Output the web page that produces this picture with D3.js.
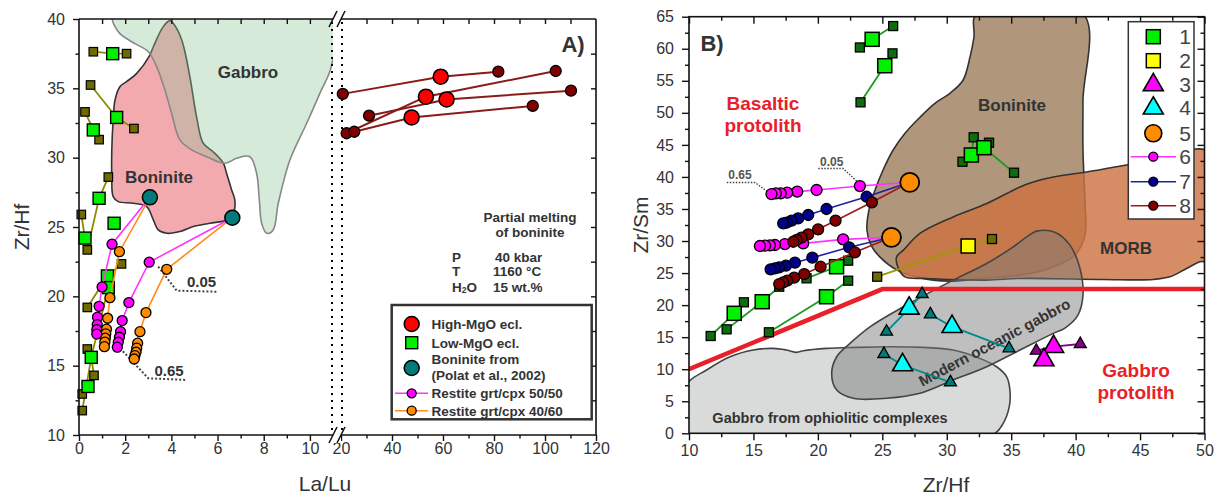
<!DOCTYPE html>
<html><head><meta charset="utf-8">
<script src="https://cdn.jsdelivr.net/npm/d3@7"></script>
<style>body{margin:0;background:#fff;} svg{display:block;}</style>
</head><body><svg id="c" width="1220" height="499"></svg>
<script>
// ---------------- DATA: panel A (La/Lu vs Zr/Hf) ----------------
const xTicksA_left = [0, 2, 4, 6, 8, 10];
const xTicksA_right = [20, 40, 60, 80, 100, 120];
const yTicksA = [10, 15, 20, 25, 30, 35, 40];

const boninitePolyA = [[3.07,37.4],[2.5,36.08],[2.06,35.48],[1.77,35.12],[1.56,34.16],[1.48,32.72],[1.42,30.56],[1.42,28.63],[1.48,27.19],[1.7,26.83],[2.35,26.71],[2.93,26.47],[3.22,25.51],[3.43,24.79],[3.8,24.55],[4.37,24.67],[4.95,25.03],[5.67,25.27],[6.39,25.51],[6.68,25.99],[6.75,26.95],[6.61,27.67],[6.39,28.88],[6.25,29.6],[5.81,30.43],[5.38,31.04],[5.09,32.96],[4.8,35.84],[4.45,38.49],[4.08,39.69],[3.94,39.88],[3.65,39.45],[3.22,38.0]];
const gabbroPolyA = [[1.48,40.3],[1.7,39.08],[2.28,38.36],[3.0,37.64],[3.36,36.56],[3.72,34.88],[4.01,33.2],[4.37,31.28],[4.88,30.56],[5.53,30.07],[6.32,29.6],[6.83,29.96],[7.4,30.07],[7.69,28.88],[7.81,26.95],[7.91,25.27],[8.13,24.55],[8.41,24.79],[8.63,26.71],[9.13,29.81],[9.86,32.48],[10.43,34.64],[10.94,36.68],[10.94,40.3]];

const lowMgO_A_big = [[1.46,37.5],[1.63,32.9],[0.62,32.0],[0.87,27.07],[1.52,25.27],[0.26,24.2],[1.23,21.47],[1.27,20.63],[0.53,15.6],[0.39,13.5]];
const lowMgO_A_small = [[0.62,37.64],[2.06,37.5],[0.5,35.24],[2.38,32.1],[0.26,33.3],[0.87,31.3],[1.27,28.6],[0.1,25.9],[0.36,23.35],[1.84,22.34],[0.36,19.2],[0.36,16.2],[0.65,14.3],[0.14,12.96],[0.14,11.76]];
const lowMgO_A_links = [
  [[0.62,37.64],[1.46,37.5],[2.06,37.5]],
  [[0.5,35.24],[1.63,32.9],[2.38,32.1]],
  [[0.26,33.3],[0.62,32.0],[0.87,31.3]],
  [[1.27,28.6],[0.87,27.07],[0.36,23.35]],
  [[0.1,25.9],[0.26,24.2]],
  [[1.84,22.34],[1.23,21.47],[0.36,19.2]],
  [[1.27,20.63],[0.53,15.6],[0.14,11.76]],
  [[0.36,16.2],[0.53,15.6],[0.65,14.3]],
  [[0.14,12.96],[0.39,13.5]]
];

const highMgO_big = [[59.1,35.84],[53.3,34.4],[61.4,34.2],[47.7,32.9]];
const highMgO_small = [[20.7,34.6],[81.7,36.2],[22.2,31.76],[104.2,36.25],[31,33.03],[110.2,34.83],[25.2,31.87],[95.2,33.73]];
const highMgO_links = [
  [[20.7,34.6],[59.1,35.84],[81.7,36.2]],
  [[22.2,31.76],[53.3,34.4],[104.2,36.25]],
  [[31,33.03],[61.4,34.2],[110.2,34.83]],
  [[25.2,31.87],[47.7,32.9],[95.2,33.73]]
];

const boniniteSamplesA = [[3.07,27.14],[6.64,25.67]];
const restite5050_A = [
  [[3.07,27.14],[1.43,23.76],[1.0,20.68],[0.87,19.28],[0.8,18.5],[0.79,17.96],[0.77,17.6],[0.77,17.28]],
  [[6.64,25.67],[3.04,22.46],[2.16,19.55],[1.87,18.25],[1.8,17.45],[1.75,17.05],[1.7,16.69],[1.66,16.33]]
];
const restite4060_A = [
  [[3.07,27.14],[1.75,23.22],[1.34,19.9],[1.24,18.42],[1.19,17.63],[1.16,17.29],[1.14,16.98],[1.12,16.7],[1.1,16.37]],
  [[6.64,25.67],[3.8,21.95],[2.9,18.83],[2.64,17.45],[2.54,16.62],[2.5,16.26],[2.47,15.97],[2.42,15.72],[2.39,15.48]]
];
const leader005_A = [[3.43,22.14],[4.23,20.41],[6.03,20.33]];
const leader065_A = [[1.78,16.25],[3.0,14.09],[4.66,13.97]];

// ---------------- DATA: panel B (Zr/Hf vs Zr/Sm) ----------------
const xTicksB = [10, 15, 20, 25, 30, 35, 40, 45, 50];
const yTicksB = [0, 5, 10, 15, 20, 25, 30, 35, 40, 45, 50, 55, 60, 65];

const boninitePolyB = [[32.32,65.5],[32.11,61.78],[31.8,58.66],[31.26,55.08],[30.25,53.05],[29.08,51.49],[27.92,49.31],[26.76,46.81],[25.83,44.16],[25.05,41.04],[24.43,37.93],[23.96,34.81],[23.81,31.69],[24.12,29.35],[24.82,27.48],[26.14,25.46],[27.69,24.37],[30.25,23.74],[32.96,24.21],[35.68,24.68],[38.0,25.77],[39.95,27.79],[40.72,30.91],[40.72,36.37],[40.57,44.16],[40.57,51.96],[40.57,65.5]];
const morbPolyB = [[50.3,43.9],[46.02,42.6],[40.85,40.78],[38.26,40.0],[36.71,39.22],[35.68,38.44],[33.1,35.85],[30.5,33.76],[27.92,31.18],[26.63,28.57],[26.11,27.53],[26.24,25.77],[26.76,24.41],[28.44,24.16],[33.1,23.9],[35.68,24.16],[42.14,24.0],[46.02,24.0],[47.31,24.41],[48.61,25.72],[49.64,26.75],[50.3,27.0]];
const ophioliteGabbroPolyB = [[9.8,7.54],[11.37,9.87],[13.18,11.94],[14.99,12.99],[16.54,13.25],[17.58,12.99],[18.36,12.63],[18.87,12.88],[20.68,13.25],[23.01,13.41],[25.59,13.5],[28.17,13.41],[30.5,12.99],[32.57,11.69],[33.87,10.38],[34.65,8.82],[34.9,6.75],[34.85,4.15],[34.38,1.56],[33.48,-0.3],[9.8,-0.3]];
const modernGabbroPolyB = [[36.97,31.54],[38.39,31.38],[39.56,29.36],[40.33,25.77],[40.57,21.56],[40.18,18.45],[39.17,16.42],[38.26,15.59],[35.68,12.99],[33.1,10.38],[30.5,8.31],[27.92,6.24],[25.34,5.46],[22.75,5.46],[21.46,6.75],[21.07,9.35],[21.46,11.94],[22.49,14.03],[24.04,16.62],[26.63,19.74],[30.5,23.9],[33.1,26.5],[35.16,29.09],[36.2,30.65]];
const protolithBoundary = [[10,10],[25,22.5],[50,22.5]];

const g1_big = [[24.21,61.47],[25.19,57.35],[31.91,43.42],[32.89,44.56],[13.51,18.72],[15.68,20.53],[21.45,25.99],[20.67,21.31]];
const g1_small = [[23.26,60.2],[25.84,63.54],[23.31,51.64],[25.79,59.28],[31.22,42.37],[32.09,46.18],[33.28,45.34],[35.22,40.66],[11.68,15.18],[14.26,20.44],[12.92,16.22],[17.0,22.87],[19.12,24.18],[22.35,26.93],[16.2,15.76],[22.35,23.81]];
const g1_links = [
  [[23.26,60.2],[24.21,61.47],[25.84,63.54]],
  [[23.31,51.64],[25.19,57.35],[25.79,59.28]],
  [[31.22,42.37],[31.91,43.42],[32.09,46.18]],
  [[33.28,45.34],[32.89,44.56],[35.22,40.66]],
  [[11.68,15.18],[13.51,18.72],[14.26,20.44]],
  [[12.92,16.22],[15.68,20.53],[17.0,22.87]],
  [[19.12,24.18],[21.45,25.99],[22.35,26.93]],
  [[16.2,15.76],[20.67,21.31],[22.35,23.81]]
];
const g2_big = [[31.66,29.22]];
const g2_small = [[24.6,24.43],[33.51,30.31]];
const g2_links = [[[24.6,24.43],[31.66,29.22],[33.51,30.31]]];
const g3_big = [[38.29,13.51],[37.54,11.44]];
const g3_small = [[36.95,12.89],[40.36,13.93]];
const g3_links = [[[36.95,12.89],[38.29,13.51],[40.36,13.93]]];
const g4_big = [[27.08,19.5],[30.41,16.63],[26.57,10.66]];
const g4_small = [[28.09,21.73],[25.33,15.86],[28.73,18.56],[34.83,13.26],[25.12,12.37],[30.29,7.96]];
const g4_links = [
  [[28.09,21.73],[27.08,19.5],[25.33,15.86]],
  [[28.73,18.56],[30.41,16.63],[34.83,13.26]],
  [[25.12,12.37],[26.57,10.66],[30.29,7.96]]
];
const g5_pts = [[27.13,39.16],[25.71,30.58]];
const s6 = [
  [[27.13,39.16],[23.26,38.58],[19.9,37.96],[18.4,37.7],[17.62,37.54],[17.11,37.44],[16.74,37.44],[16.4,37.33]],
  [[25.71,30.58],[21.96,30.26],[18.86,29.64],[17.44,29.53],[16.67,29.38],[16.28,29.33],[15.9,29.27],[15.5,29.22]]
];
const s7 = [
  [[27.13,39.16],[23.78,36.91],[20.67,35.0],[19.25,34.06],[18.47,33.54],[17.96,33.17],[17.57,32.86],[17.31,32.76]],
  [[25.71,30.58],[22.43,29.02],[19.57,27.4],[18.22,26.62],[17.52,26.15],[17.0,25.9],[16.67,25.74],[16.33,25.58]]
];
const s8 = [
  [[27.13,39.16],[24.19,36.04],[21.37,33.17],[20.02,31.83],[19.25,31.04],[18.73,30.52],[18.35,30.16],[18.09,29.89]],
  [[25.71,30.58],[22.87,28.24],[20.21,25.99],[18.94,24.85],[18.16,24.28],[17.62,23.81],[17.31,23.56],[17.0,23.29]]
];
const leader065_B = [[12.93,39.13],[15.12,39.13],[16.29,37.41]];
const leader005_B = [[20.03,41.31],[21.97,41.31],[23.21,38.97]];
const legendB_labels = ["1","2","3","4","5","6","7","8"];

// ---------------- DRAWING ----------------
const FONT = '"Liberation Sans", Arial, Helvetica, sans-serif';
const svg = d3.select('#c').attr('font-family', FONT);
const defs = svg.append('defs');

const xLA = d3.scaleLinear().domain([0, 11]).range([79, 333]);
const xRA = d3.scaleLinear().domain([20, 120]).range([341, 596]);
const yA = d3.scaleLinear().domain([10, 40]).range([435, 19]);
const xB = d3.scaleLinear().domain([10, 50]).range([689, 1204.5]);
const yB = d3.scaleLinear().domain([0, 65]).range([433.3, 16.7]);

defs.append('clipPath').attr('id','clipAL').append('rect').attr('x',79).attr('y',19).attr('width',254).attr('height',416);
defs.append('clipPath').attr('id','clipB').append('rect').attr('x',689).attr('y',16.7).attr('width',515.5).attr('height',416.6);

const lineAL = d3.line().x(d=>xLA(d[0])).y(d=>yA(d[1]));
const lineAR = d3.line().x(d=>xRA(d[0])).y(d=>yA(d[1]));
const lineB = d3.line().x(d=>xB(d[0])).y(d=>yB(d[1]));
const polyAL = d3.line().x(d=>xLA(d[0])).y(d=>yA(d[1])).curve(d3.curveCatmullRomClosed.alpha(0.5));
const polyB = d3.line().x(d=>xB(d[0])).y(d=>yB(d[1])).curve(d3.curveCatmullRomClosed.alpha(0.5));

function tri(cx, cy, s) {
  const h = s * Math.sqrt(3) / 2;
  return `M${cx},${cy - 2*h/3}L${cx + s/2},${cy + h/3}L${cx - s/2},${cy + h/3}Z`;
}
function squares(g, pts, xs, ys, size, fill, sw) {
  g.selectAll(null).data(pts).enter().append('rect')
    .attr('x', d => xs(d[0]) - size/2).attr('y', d => ys(d[1]) - size/2)
    .attr('width', size).attr('height', size)
    .attr('fill', fill).attr('stroke', '#000').attr('stroke-width', sw);
}
function circles(g, pts, xs, ys, r, fill, sw) {
  g.selectAll(null).data(pts).enter().append('circle')
    .attr('cx', d => xs(d[0])).attr('cy', d => ys(d[1])).attr('r', r)
    .attr('fill', fill).attr('stroke', '#000').attr('stroke-width', sw);
}
function triangles(g, pts, xs, ys, s, fill, sw) {
  g.selectAll(null).data(pts).enter().append('path')
    .attr('d', d => tri(xs(d[0]), ys(d[1]), s))
    .attr('fill', fill).attr('stroke', '#000').attr('stroke-width', sw).attr('stroke-linejoin','miter');
}
function links(g, arr, gen, color, w) {
  g.selectAll(null).data(arr).enter().append('path')
    .attr('d', d => gen(d)).attr('fill','none').attr('stroke', color).attr('stroke-width', w);
}
function axis(parent, tr, fn, scale, values, size, labels, pad) {
  const ax = fn(scale).tickValues(values).tickSize(size).tickPadding(pad || 4)
    .tickFormat(labels ? d3.format('d') : () => '');
  const g = parent.append('g').attr('transform', tr).call(ax);
  g.select('.domain').remove();
  g.selectAll('line').attr('stroke', '#111').attr('stroke-width', 1.4);
  g.selectAll('text').attr('font-size', 16).attr('fill', '#333').attr('font-family', FONT);
  return g;
}
function txt(x, y, s, opt) {
  opt = opt || {};
  return svg.append('text').attr('x', x).attr('y', y).text(s)
    .attr('font-size', opt.size || 16).attr('font-weight', opt.bold ? 700 : 400)
    .attr('fill', opt.fill || '#333').attr('text-anchor', opt.anchor || 'middle');
}
const range = (a, b, st) => d3.range(a, b + st/2, st);

// ===== Panel A =====
const pA = svg.append('g').attr('clip-path', 'url(#clipAL)');
pA.append('path').attr('d', polyAL(boninitePolyA)).attr('fill', '#f3aaae').attr('stroke', '#333').attr('stroke-width', 1.6);
pA.append('path').attr('d', polyAL(gabbroPolyA)).attr('fill', 'rgb(141,197,152)').attr('fill-opacity', 0.36).attr('stroke', '#888').attr('stroke-width', 1.6);

txt(248, 78, 'Gabbro', {size: 17, bold: true});
txt(159, 183, 'Boninite', {size: 17, bold: true});

// break dotted lines
[332, 342].forEach(x => svg.append('line').attr('x1', x).attr('x2', x).attr('y1', 22).attr('y2', 432)
  .attr('stroke', '#000').attr('stroke-width', 2).attr('stroke-dasharray', '2,5'));

// leaders A
const dotted = (g, pts, gen) => g.append('path').attr('d', gen(pts)).attr('fill','none').attr('stroke','#444').attr('stroke-width',2).attr('stroke-dasharray','2,2');
dotted(svg, leader005_A, lineAL);
dotted(svg, leader065_A, lineAL);
txt(xLA(5.31), yA(20.67), '0.05', {size: 15, bold: true});
txt(xLA(3.9), yA(14.29), '0.65', {size: 15, bold: true});

// low-MgO
links(svg, lowMgO_A_links, lineAL, '#8b8b00', 1.8);
squares(svg, lowMgO_A_small, xLA, yA, 8.5, '#6e6a00', 1.2);
squares(svg, lowMgO_A_big, xLA, yA, 12, '#00f000', 1.4);
// restites
links(svg, restite4060_A, lineAL, '#ff8c1a', 1.6);
links(svg, restite5050_A, lineAL, '#ff33ff', 1.6);
restite4060_A.forEach(s => circles(svg, s.slice(1), xLA, yA, 5, '#ff8c00', 1.3));
restite5050_A.forEach(s => circles(svg, s.slice(1), xLA, yA, 5, '#ff00ff', 1.3));
circles(svg, boniniteSamplesA, xLA, yA, 7.5, '#007a7a', 1.5);
// high-MgO
links(svg, highMgO_links, lineAR, '#8b1a1a', 2);
circles(svg, highMgO_small, xRA, yA, 5.5, '#800000', 1.3);
circles(svg, highMgO_big, xRA, yA, 7.5, '#ff0000', 1.5);

// axes A
axis(svg, 'translate(0,435)', d3.axisBottom, xLA, xTicksA_left, 6, true, 4).selectAll('text').attr('y', 19).attr('dy', 0);
axis(svg, 'translate(0,435)', d3.axisBottom, xLA, [1,3,5,7,9], 3.5, false);
axis(svg, 'translate(0,435)', d3.axisBottom, xRA, xTicksA_right, 6, true, 4).selectAll('text').attr('y', 19).attr('dy', 0);
axis(svg, 'translate(0,435)', d3.axisBottom, xRA, [30,50,70,90,110], 3.5, false);
axis(svg, 'translate(0,19)', d3.axisBottom, xLA, range(1, 10, 1), 5, false);
axis(svg, 'translate(0,19)', d3.axisBottom, xRA, range(30, 110, 10), 5, false);
axis(svg, 'translate(79,0)', d3.axisLeft, yA, yTicksA, 6, true, 8);
axis(svg, 'translate(79,0)', d3.axisLeft, yA, range(12.5, 37.5, 5), 3.5, false);
axis(svg, 'translate(596,0)', d3.axisLeft, yA, range(12.5, 37.5, 2.5), 5, false);
// frame A
const fr = (x1,y1,x2,y2) => svg.append('line').attr('x1',x1).attr('y1',y1).attr('x2',x2).attr('y2',y2).attr('stroke','#111').attr('stroke-width',1.6);
fr(79,19,79,435); fr(596,19,596,435);
fr(79,19,333,19); fr(341,19,596,19);
fr(79,435,333,435); fr(341,435,596,435);
// break marks
[19, 435].forEach(y => {
  svg.append('rect').attr('x',333).attr('y',y-8).attr('width',8).attr('height',16).attr('fill','#fff');
  [[329,337],[337,345]].forEach(([a,b]) => svg.append('line').attr('x1',a).attr('y1',y+8).attr('x2',b).attr('y2',y-8).attr('stroke','#111').attr('stroke-width',1.6));
});

txt(573, 52, 'A)', {size: 22, bold: true});
txt(530, 222, 'Partial melting', {size: 13.5, bold: true});
txt(530, 237, 'of boninite', {size: 13.5, bold: true});
txt(452, 262, 'P', {size: 13.5, bold: true, anchor: 'start'});
txt(495, 262, '40 kbar', {size: 13.5, bold: true, anchor: 'start'});
txt(452, 276, 'T', {size: 13.5, bold: true, anchor: 'start'});
txt(493, 276, '1160 °C', {size: 13.5, bold: true, anchor: 'start'});
const h2o = txt(452, 292, 'H', {size: 13.5, bold: true, anchor: 'start'});
h2o.append('tspan').attr('font-size', 8.5).attr('dy', 1).text('2');
h2o.append('tspan').attr('dy', -1).text('O');
txt(493, 292, '15 wt.%', {size: 13.5, bold: true, anchor: 'start'});

// legend A
svg.append('rect').attr('x',391.7).attr('y',305).attr('width',200).attr('height',114.3).attr('fill','#fff').attr('stroke','#333').attr('stroke-width',2.5);
svg.append('circle').attr('cx',411.7).attr('cy',324).attr('r',7.5).attr('fill','#ff0000').attr('stroke','#000').attr('stroke-width',1.5);
svg.append('rect').attr('x',405.7).attr('y',336.7).attr('width',12).attr('height',12).attr('fill','#00f000').attr('stroke','#000').attr('stroke-width',1.4);
svg.append('circle').attr('cx',411.7).attr('cy',368).attr('r',7.5).attr('fill','#007a7a').attr('stroke','#000').attr('stroke-width',1.5);
[[393.3,'#ff33ff','#ff00ff'],[410.7,'#ff8c1a','#ff8c00']].forEach(([y,lc,fc]) => {
  svg.append('line').attr('x1',395).attr('x2',428).attr('y1',y).attr('y2',y).attr('stroke',lc).attr('stroke-width',1.6);
  svg.append('circle').attr('cx',411.7).attr('cy',y).attr('r',4.5).attr('fill',fc).attr('stroke','#000').attr('stroke-width',1.3);
});
txt(431.5, 329, 'High-MgO ecl.', {size: 13.5, bold: true, anchor: 'start'});
txt(431.5, 347.5, 'Low-MgO ecl.', {size: 13.5, bold: true, anchor: 'start'});
txt(431.5, 364, 'Boninite from', {size: 13.5, bold: true, anchor: 'start'});
txt(431.5, 380, '(Polat et al., 2002)', {size: 13.5, bold: true, anchor: 'start'});
txt(431.5, 398, 'Restite grt/cpx 50/50', {size: 13.5, bold: true, anchor: 'start'});
txt(431.5, 415.5, 'Restite grt/cpx 40/60', {size: 13.5, bold: true, anchor: 'start'});

txt(325, 491, 'La/Lu', {size: 21});
svg.append('text').attr('transform','translate(29,227) rotate(-90)').attr('text-anchor','middle')
  .attr('font-size',21).attr('fill','#333').text('Zr/Hf');

// ===== Panel B =====
const pB = svg.append('g').attr('clip-path', 'url(#clipB)');
pB.append('path').attr('d', polyB(boninitePolyB)).attr('fill', 'rgb(176,150,122)').attr('stroke', '#333').attr('stroke-width', 1.6);
pB.append('path').attr('d', polyB(morbPolyB)).attr('fill', 'rgb(205,115,66)').attr('fill-opacity', 0.82).attr('stroke', '#333').attr('stroke-width', 1.6);
pB.append('path').attr('d', polyB(ophioliteGabbroPolyB)).attr('fill', '#d9dbdb').attr('stroke', '#444').attr('stroke-width', 1.6);
pB.append('path').attr('d', polyB(modernGabbroPolyB)).attr('fill', '#7a7a7a').attr('fill-opacity', 0.48).attr('stroke', '#444').attr('stroke-width', 1.6);
pB.append('path').attr('d', lineB(protolithBoundary)).attr('fill','none').attr('stroke','#e8202a').attr('stroke-width',4.5);

txt(1012, 111, 'Boninite', {size: 17, bold: true});
txt(1126, 254, 'MORB', {size: 17, bold: true});
txt(763, 110, 'Basaltic', {size: 19, bold: true, fill: '#e8202a'});
txt(763, 132, 'protolith', {size: 19, bold: true, fill: '#e8202a'});
txt(1136, 377, 'Gabbro', {size: 19, bold: true, fill: '#e8202a'});
txt(1136, 399, 'protolith', {size: 19, bold: true, fill: '#e8202a'});
svg.append('text').attr('transform','translate(997,347) rotate(-28)').attr('text-anchor','middle')
  .attr('font-size',15).attr('font-weight',700).attr('fill','#333').text('Modern oceanic gabbro');
txt(830, 423, 'Gabbro from ophiolitic complexes', {size: 14.5, bold: true});

dotted(svg, leader065_B, lineB).attr('stroke-width',1.4).attr('stroke-dasharray','1.5,1.5');
dotted(svg, leader005_B, lineB).attr('stroke-width',1.4).attr('stroke-dasharray','1.5,1.5');
txt(xB(13.96), yB(39.72), '0.65', {size: 12, bold: true, fill: '#555'});
txt(xB(21.07), yB(41.67), '0.05', {size: 12, bold: true, fill: '#555'});

links(svg, g1_links, lineB, '#1f9a1f', 1.8);
links(svg, g2_links, lineB, '#9a9a00', 1.8);
links(svg, g3_links, lineB, '#8b008b', 1.8);
links(svg, g4_links, lineB, '#008b8b', 1.8);
squares(svg, g1_small, xB, yB, 9, '#0e6e0e', 1.3);
squares(svg, g1_big, xB, yB, 14, '#00f000', 1.5);
squares(svg, g2_small, xB, yB, 9, '#6e6a00', 1.3);
squares(svg, g2_big, xB, yB, 14, '#ffff00', 1.5);
triangles(svg, g4_small, xB, yB, 12, '#007a7a', 1.3);
triangles(svg, g4_big, xB, yB, 20, '#00ffff', 1.6);
triangles(svg, g3_small, xB, yB, 12, '#8b008b', 1.3);
triangles(svg, g3_big, xB, yB, 20, '#ff00ff', 1.6);

[[s6,'#ff33ff','#ff00ff'],[s7,'#2020a0','#00008b'],[s8,'#a01a1a','#800000']].forEach(([ser, lc, fc]) => {
  links(svg, ser, lineB, lc, 1.6);
  ser.forEach(s => circles(svg, s.slice(1), xB, yB, 5.5, fc, 1.3));
});
circles(svg, g5_pts, xB, yB, 9.5, '#ff8c00', 1.8);

// axes B
axis(svg, 'translate(0,433.3)', d3.axisBottom, xB, xTicksB, 7, true, 4).selectAll('text').attr('y', 23).attr('dy', 0);
axis(svg, 'translate(0,433.3)', d3.axisBottom, xB, range(12.5, 47.5, 5), 4, false);
axis(svg, 'translate(0,16.7)', d3.axisBottom, xB, xTicksB, 7, false);
axis(svg, 'translate(0,16.7)', d3.axisBottom, xB, range(12.5, 47.5, 5), 4, false);
axis(svg, 'translate(689,0)', d3.axisLeft, yB, yTicksB, 7, true, 8);
axis(svg, 'translate(689,0)', d3.axisLeft, yB, range(2.5, 62.5, 5), 4, false);
axis(svg, 'translate(1204.5,0)', d3.axisLeft, yB, yTicksB, 7, false);
axis(svg, 'translate(1204.5,0)', d3.axisLeft, yB, range(2.5, 62.5, 5), 4, false);
svg.append('rect').attr('x',689).attr('y',16.7).attr('width',515.5).attr('height',416.6).attr('fill','none').attr('stroke','#111').attr('stroke-width',1.6);

txt(712, 51, 'B)', {size: 22, bold: true});
txt(946, 492, 'Zr/Hf', {size: 21});
svg.append('text').attr('transform','translate(648,225) rotate(-90)').attr('text-anchor','middle')
  .attr('font-size',21).attr('fill','#333').text('Zr/Sm');

// legend B
svg.append('rect').attr('x',1128.3).attr('y',21.7).attr('width',65.7).attr('height',197.3).attr('fill','#fff').attr('stroke','#333').attr('stroke-width',1.5);
const rowsB = [36.7, 60.7, 84, 107.3, 133.3, 156.7, 181.7, 205.7];
const lx = 1153.3;
svg.append('rect').attr('x',lx-7).attr('y',rowsB[0]-7).attr('width',14).attr('height',14).attr('fill','#00f000').attr('stroke','#000').attr('stroke-width',1.5);
svg.append('rect').attr('x',lx-7).attr('y',rowsB[1]-7).attr('width',14).attr('height',14).attr('fill','#ffff00').attr('stroke','#000').attr('stroke-width',1.5);
svg.append('path').attr('d', tri(lx, rowsB[2]+1, 20)).attr('fill','#ff00ff').attr('stroke','#000').attr('stroke-width',1.6);
svg.append('path').attr('d', tri(lx, rowsB[3]+1, 20)).attr('fill','#00ffff').attr('stroke','#000').attr('stroke-width',1.6);
svg.append('circle').attr('cx',lx).attr('cy',rowsB[4]).attr('r',8.5).attr('fill','#ff8c00').attr('stroke','#000').attr('stroke-width',1.6);
[[5,'#ff33ff','#ff00ff'],[6,'#2020a0','#00008b'],[7,'#a01a1a','#800000']].forEach(([i,lc,fc]) => {
  svg.append('line').attr('x1',1130.7).attr('x2',1176).attr('y1',rowsB[i]).attr('y2',rowsB[i]).attr('stroke',lc).attr('stroke-width',1.6);
  svg.append('circle').attr('cx',lx).attr('cy',rowsB[i]).attr('r',4.5).attr('fill',fc).attr('stroke','#000').attr('stroke-width',1.3);
});
legendB_labels.forEach((l, i) => txt(1185, rowsB[i] + 7.5, l, {size: 21, fill: '#444'}));
</script></body></html>
